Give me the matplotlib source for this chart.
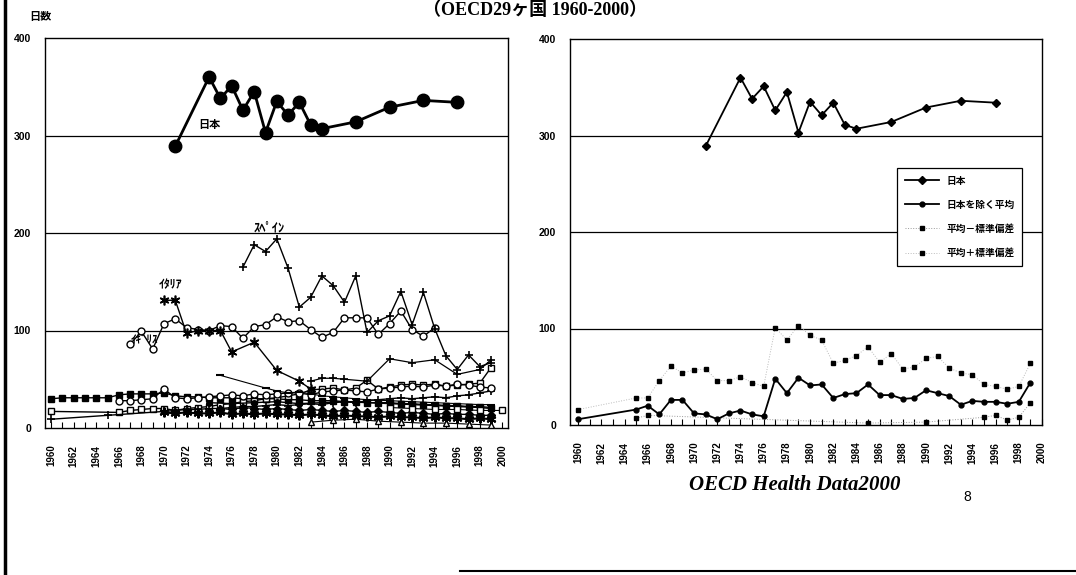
import matplotlib.pyplot as plt
import numpy as np

plt.rcParams['font.family'] = ['Liberation Sans', 'Noto Sans CJK JP', 'DejaVu Sans']

# 左図: 国別の平均在院日数
japan_years = [1971, 1974, 1975, 1976, 1977, 1978, 1979, 1980, 1981, 1982, 1983, 1984, 1987, 1990, 1993, 1996]
japan_days = [289, 360, 338, 351, 326, 345, 303, 335, 321, 334, 311, 307, 314, 329, 336, 334]

spain_years = list(range(1977, 2000))
spain_days = [165, 188, 181, 194, 164, 124, 134, 156, 146, 129, 156, 98, 110, 115, 140, 106, 139, 102, 74, 60, 75, 63, 67]

italy_years = [1970, 1971, 1972, 1973, 1974, 1975, 1976, 1978, 1980, 1982, 1983]
italy_days = [131, 131, 97, 100, 100, 100, 78, 88, 59, 48, 40]

uk_years = list(range(1967, 1995))
uk_days = [86, 99, 81, 107, 112, 103, 101, 100, 105, 104, 92, 104, 106, 114, 109, 110, 101, 93, 98, 113, 113, 113, 96, 107, 120, 101, 94, 103]

plus2_years = [1983, 1984, 1985, 1986, 1988, 1990, 1992, 1994, 1996, 1998, 1999]
plus2_days = [48, 51, 51, 50, 48, 71, 67, 70, 55, 60, 70]

# 下の方に固まっている国々
a_years = list(range(1960, 2000))
a_days = [30, 31, 31, 31, 31, 31, 34, 35, 35, 35, 36, 33, 32, 32, 31, 31, 31, 30, 30, 30,
          30, 29, 29, 28, 28, 28, 27, 27, 26, 26, 26, 25, 25, 24, 24, 23, 23, 22, 22, 21]

b_years = [1960] + list(range(1966, 2000))
b_days = [17, 16, 18, 19, 20, 20, 18, 20, 21, 22, 24, 25, 27, 28, 30, 31, 33, 35, 39, 40,
          41, 39, 41, 49, 40, 42, 44, 45, 44, 45, 43, 44, 45, 46, 62]

c_years = [1960, 1965] + list(range(1970, 2000))
c_days = [9, 13, 17, 18, 19, 19, 20, 20, 21, 22, 22, 23, 24, 23, 24, 25, 24, 26, 27, 26,
          28, 29, 30, 31, 30, 31, 32, 31, 33, 34, 36, 38]

d_years = list(range(1970, 2000))
d_days = [16, 15, 16, 15, 15, 16, 14, 15, 14, 15, 14, 14, 13, 14, 13, 12, 13, 12, 12, 11,
          12, 11, 11, 10, 11, 10, 10, 9, 10, 9]

e_years = list(range(1975, 2000))
e_days = [20, 19, 21, 20, 19, 20, 19, 18, 19, 18, 17, 18, 17, 16, 17, 16, 15, 16, 15, 14,
          15, 14, 14, 13, 13]

f_years = list(range(1966, 2000))
f_days = [28, 28, 29, 30, 40, 31, 30, 31, 32, 33, 34, 33, 35, 34, 35, 36, 36, 34, 37, 38,
          39, 38, 37, 40, 41, 42, 43, 42, 44, 43, 45, 44, 42, 41]

g_years = [1983, 1985, 1987, 1989, 1991, 1993, 1995, 1997, 1999]
g_days = [6, 8, 9, 7, 6, 5, 5, 4, 3]

h_years = [1974, 1976, 1978, 1980, 1982, 1984, 1986, 1988, 1990, 1992, 1994, 1996, 1998, 1999]
h_days = [26, 25, 26, 27, 25, 26, 27, 26, 25, 24, 23, 22, 21, 20]

i_years = [1975, 1979, 1980, 1981, 1982, 1983, 1984, 1985, 1986, 1987, 1988, 1990, 1992, 1994, 1996, 1998, 1999]
i_days = [54, 41, 38, 36, 37, 35, 33, 32, 31, 30, 29, 28, 27, 26, 25, 24, 24]

k_years = [1990, 1992, 1994, 1996, 1998, 2000]
k_days = [21, 20, 19, 19, 18, 18]

# 右図: 日本と日本を除く平均
avg_years = [1960] + list(range(1965, 2000))
avg_days = [6, 16, 20, 11, 26, 26, 12, 11, 6, 12, 15, 11, 9, 48, 33, 49, 41, 42, 28, 32,
            33, 42, 31, 31, 27, 28, 36, 33, 30, 21, 25, 24, 24, 22, 24, 44]
upper_days = [16, 28, 28, 46, 61, 54, 57, 58, 46, 46, 50, 44, 40, 101, 88, 103, 93, 88, 64, 67,
              72, 81, 65, 74, 58, 60, 69, 71, 59, 54, 52, 42, 40, 37, 40, 64]
lower_years = [1965, 1966, 1985, 1990, 1995, 1996, 1997, 1998, 1999]
lower_days = [7, 10, 2, 3, 8, 10, 5, 8, 23]

legend_labels = ['日本', '日本を除く平均', '平均－標準偏差', '平均＋標準偏差']

fig = plt.figure(figsize=(10.76, 5.75), dpi=100)
ax1 = fig.add_axes([45 / 1076, 1 - 428 / 575, 463 / 1076, 390 / 575])
ax2 = fig.add_axes([570 / 1076, 1 - 425 / 575, 472 / 1076, 386 / 575])


def style_axes(ax, xmin, xmax):
    ax.set_xlim(xmin, xmax)
    ax.set_ylim(0, 400)
    ax.set_yticks([0, 100, 200, 300, 400])
    ax.set_xticks(range(1960, 2001, 2))
    ax.set_xticks(range(1960, 2001), minor=True)
    ax.tick_params(axis='x', which='both', direction='in', length=4, width=0.8, pad=12,
                   labelrotation=90, labelsize=7)
    ax.tick_params(axis='y', length=0, pad=10, labelsize=7.5)
    for lab in ax.get_xticklabels() + ax.get_yticklabels():
        lab.set_fontweight('bold')
    for y in [100, 200, 300]:
        ax.axhline(y, color='black', lw=0.9, zorder=1)
    for s in ax.spines.values():
        s.set_linewidth(1.0)


style_axes(ax1, 1959.45, 2000.5)
style_axes(ax2, 1959.3, 2000.0)

# 左図
ax1.plot(a_years, a_days, color='black', lw=1, marker='s', ms=5, zorder=3)
ax1.plot(b_years, b_days, color='black', lw=1, marker='s', ms=5, mfc='white', zorder=3)
ax1.plot(c_years, c_days, color='black', lw=1, marker='+', ms=6, mew=1.2, zorder=3)
ax1.plot(d_years, d_days, color='black', lw=1.5, marker=(6, 2, 0), ms=7, mew=1.5, zorder=3)
ax1.plot(e_years, e_days, color='black', lw=1, marker='D', ms=4, zorder=3)
ax1.plot(f_years, f_days, color='black', lw=1, marker='o', ms=5, mfc='white', zorder=3)
ax1.plot(g_years, g_days, color='black', lw=0.8, marker='^', ms=4, mfc='white', zorder=3)
ax1.plot(h_years, h_days, color='black', lw=1, marker='o', ms=4, zorder=3)
ax1.plot(i_years, i_days, color='black', lw=0.8, marker='_', ms=6, mew=1.5, zorder=3)
ax1.plot(k_years, k_days, color='black', lw=0.8, marker='s', ms=5, mfc='white', zorder=3)
ax1.plot(plus2_years, plus2_days, color='black', lw=0.9, marker='+', ms=6, mew=1.2, zorder=3)
ax1.plot(uk_years, uk_days, color='black', lw=1, marker='o', ms=5, mfc='white', zorder=4)
ax1.plot(italy_years, italy_days, color='black', lw=1, marker=(6, 2, 0), ms=7, mew=1.2, zorder=4)
ax1.plot(spain_years, spain_days, color='black', lw=1, marker='+', ms=6, mew=1.2, zorder=4)
ax1.plot(japan_years, japan_days, color='black', lw=2, marker='o', ms=9, zorder=5)

ax1.text(1974.0, 311, '日本', fontsize=8, fontweight='bold', ha='center', va='center')
ax1.text(1979.3, 205, 'ｽﾍﾟｲﾝ', fontsize=9, fontweight='bold', ha='center', va='center')
ax1.text(1970.6, 147, 'ｲﾀﾘｱ', fontsize=8.5, fontweight='bold', ha='center', va='center')
ax1.text(1968.3, 90, 'ｲｷﾞﾘｽ', fontsize=8, fontweight='bold', ha='center', va='center', zorder=6)

# 右図
ax2.plot(japan_years, japan_days, color='black', lw=1.3, marker='D', ms=4.5, label=legend_labels[0], zorder=5)
ax2.plot(avg_years, avg_days, color='black', lw=1.3, marker='o', ms=3.5, label=legend_labels[1], zorder=4)
ax2.plot(lower_years, lower_days, color='#999999', ls=':', lw=0.7, marker='s', ms=3.5,
         mfc='black', mec='black', label=legend_labels[2], zorder=3)
ax2.plot(avg_years, upper_days, color='#bbbbbb', ls=':', lw=0.7, marker='s', ms=3.5,
         mfc='black', mec='black', label=legend_labels[3], zorder=3)

leg = ax2.legend(loc='upper left', bbox_to_anchor=((892 - 570) / 472, (425 - 163) / 386),
                 fontsize=7, frameon=True, fancybox=False, edgecolor='black', framealpha=1,
                 handlelength=3.5, labelspacing=1.45, borderpad=0.8)
leg.get_frame().set_linewidth(0.9)
for t in leg.get_texts():
    t.set_fontweight('bold')

# スライドの文字
fig.text(40 / 1076, 1 - 17 / 575, '日数', fontsize=8, fontweight='bold', ha='center', va='center')
fig.text(535 / 1076, 1 - 15 / 575, '（OECD29ヶ国 1960-2000）', fontsize=13, fontweight='bold',
         ha='center', va='baseline', family=['Liberation Serif', 'Noto Sans CJK JP'])
fig.text(795 / 1076, 1 - 490 / 575, 'OECD Health Data2000', fontsize=15, fontweight='bold',
         style='italic', family='Liberation Serif', ha='center', va='baseline')
fig.text(967 / 1076, 1 - 497 / 575, '8', fontsize=10, ha='center', va='center')

# 枠線
fig.add_artist(plt.Line2D([5 / 1076, 5 / 1076], [0, 1], color='black', lw=2.5))
fig.add_artist(plt.Line2D([460 / 1076, 1], [1 - 571 / 575, 1 - 571 / 575], color='black', lw=1.5))

plt.savefig('out.png', dpi=100)
